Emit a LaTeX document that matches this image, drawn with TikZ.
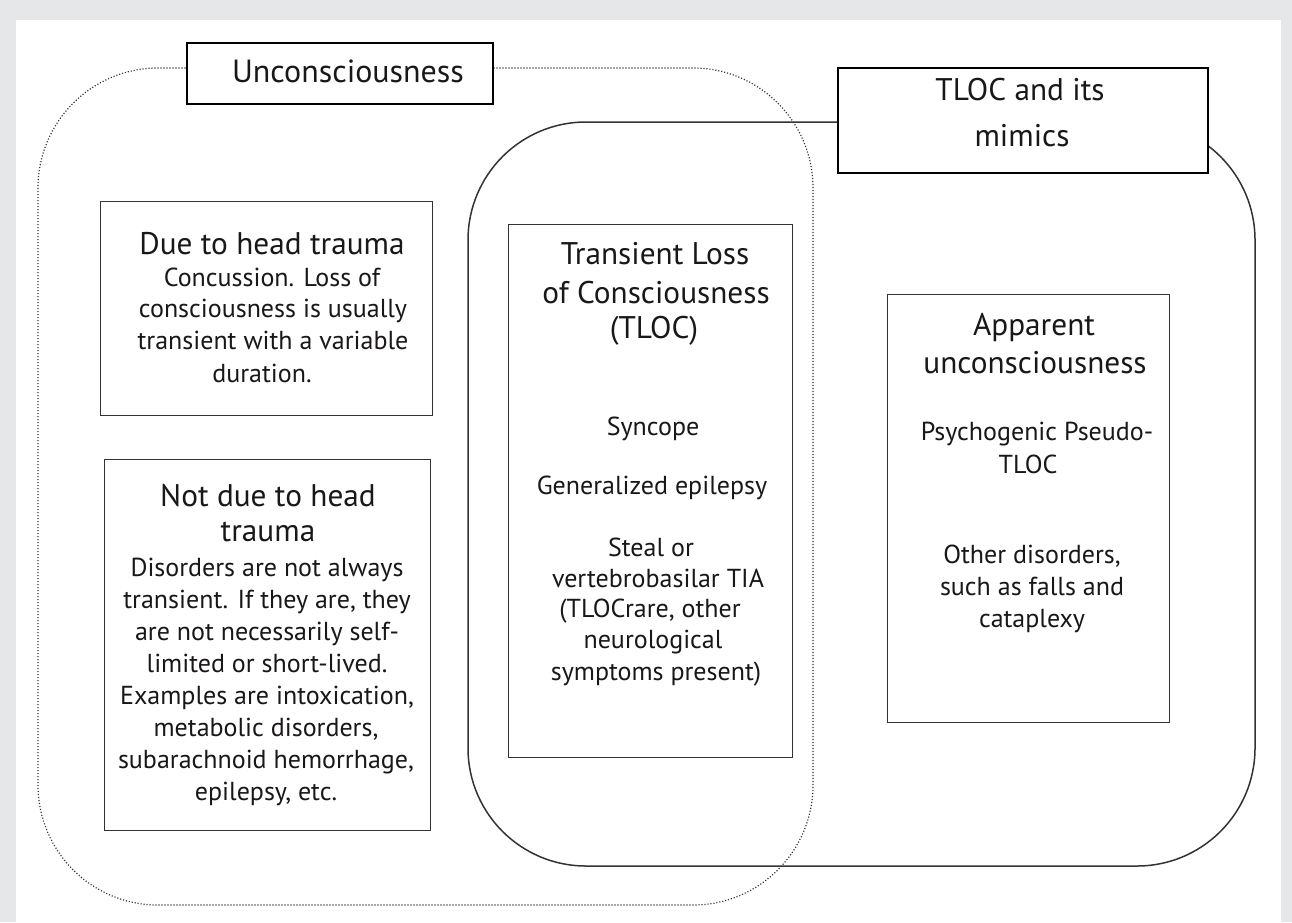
\documentclass[tikz,border=0pt]{standalone}
\usepackage{fontspec}
\setmainfont{PT Sans}
\definecolor{framegray}{HTML}{E6E7E8}
\definecolor{ink}{HTML}{1A1718}
\definecolor{linegray}{HTML}{333333}
\definecolor{dotgray}{HTML}{333333}
\tikzset{
  title/.style={anchor=base, inner sep=0pt, text=ink, font=\fontsize{31.3}{39}\selectfont},
  body/.style={anchor=base, inner sep=0pt, text=ink, font=\fontsize{26}{32}\selectfont},
  catbox/.style={draw=linegray, line width=1.2pt, fill=white},
  labelbox/.style={draw=black, line width=2.2pt, fill=white},
  tlocshape/.style={draw=linegray, line width=1.5pt, rounded corners=118pt},
  unconsshape/.style={draw=dotgray, line width=1.2pt, dash pattern=on 1.1pt off 1.9pt, rounded corners=120pt}
}
\begin{document}
\begin{tikzpicture}[x=1pt, y=-1pt]
\useasboundingbox (0,0) rectangle (1292,922);
\fill[framegray] (0,0) rectangle (1292,922);
\fill[white] (16,20) rectangle (1281,922);

% outer groups
\draw[tlocshape] (468,122) rectangle (1255,866);
\draw[unconsshape] (38,68) rectangle (813,905);

% group labels
\node[labelbox, minimum width=306pt, minimum height=61pt, anchor=north west] (lblU) at (186,42) {};
\node[title, font=\fontsize{32}{39}\selectfont] (lblUt) at (348,82) {Unconsciousness};
\node[labelbox, minimum width=370pt, minimum height=105pt, anchor=north west] (lblT) at (837,67) {};
\node[title] (lblTt1) at (1020,100) {TLOC and its};
\node[title] (lblTt2) at (1022,146) {mimics};

% box: due to head trauma
\node[catbox, minimum width=332pt, minimum height=214pt, anchor=north west] (bHead) at (100,201) {};
\node[title] (h1) at (272,254) {Due to head trauma};
\node[body] (h2) at (272,286) {Concussion. Loss of};
\node[body] (h3) at (273,317) {consciousness is usually};
\node[body] (h4) at (273,349) {transient with a variable};
\node[body] (h5) at (262,382) {duration.};

% box: not due to head trauma
\node[catbox, minimum width=326pt, minimum height=371pt, anchor=north west] (bNot) at (104,459) {};
\node[title] (n1) at (268,506) {Not due to head};
\node[title] (n2) at (268,541) {trauma};
\node[body] (n3) at (267,576) {Disorders are not always};
\node[body] (n4) at (267,608) {transient. If they are, they};
\node[body] (n5) at (267,640) {are not necessarily self-};
\node[body] (n6) at (267,672) {limited or short-lived.};
\node[body] (n7) at (267,704) {Examples are intoxication,};
\node[body] (n8) at (266,736) {metabolic disorders,};
\node[body] (n9) at (266,768) {subarachnoid hemorrhage,};
\node[body] (n10) at (266,800) {epilepsy, etc.};

% box: TLOC
\node[catbox, minimum width=284pt, minimum height=533pt, anchor=north west] (bTloc) at (508,224) {};
\node[title] (t1) at (655,264) {Transient Loss};
\node[title] (t2) at (656,303) {of Consciousness};
\node[title] (t3) at (654,338) {(TLOC)};
\node[body] (t4) at (653,435) {Syncope};
\node[body] (t5) at (652,494) {Generalized epilepsy};
\node[body] (t6) at (651,556) {Steal or};
\node[body] (t7) at (658,587) {vertebrobasilar TIA};
\node[body] (t8) at (650,617) {(TLOCrare, other};
\node[body] (t9) at (653,648) {neurological};
\node[body] (t10) at (656,680) {symptoms present)};

% box: apparent unconsciousness
\node[catbox, minimum width=282pt, minimum height=428pt, anchor=north west] (bApp) at (887,294) {};
\node[title] (a1) at (1034,335) {Apparent};
\node[title] (a2) at (1035,373) {unconsciousness};
\node[body] (a3) at (1037,440) {Psychogenic Pseudo-};
\node[body] (a4) at (1028,473) {TLOC};
\node[body] (a5) at (1032,563) {Other disorders,};
\node[body] (a6) at (1032,595) {such as falls and};
\node[body] (a7) at (1032,627) {cataplexy};
\end{tikzpicture}
\end{document}
